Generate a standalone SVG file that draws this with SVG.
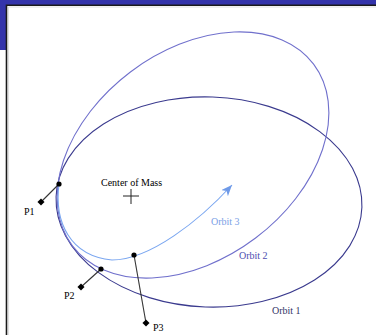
<svg xmlns="http://www.w3.org/2000/svg" width="376" height="335" viewBox="0 0 376 335">
<style>
  .lbl { font-family: "Liberation Serif", "Times New Roman", serif; font-size: 10px; }
  .orb { fill: none; stroke-width: 1.1; }
  .lead { stroke: #333; stroke-width: 1.1; }
  .dot { fill: #000; }
</style>
<defs>
  <marker id="arr" markerWidth="12" markerHeight="10" refX="11" refY="4.5" orient="auto" markerUnits="userSpaceOnUse">
    <path d="M0,0 L11,4.5 L0,9 L3,4.5 Z" fill="#6f9ae8"/>
  </marker>
</defs>
<rect width="376" height="335" fill="#fff"/>
<g id="frame">
  <rect x="0" y="0" width="376" height="5" fill="#3333aa"/>
  <rect x="0" y="0" width="7" height="50" fill="#3333aa"/>
  <path d="M6.5,335 V5.2 H376" fill="none" stroke="#1a1a1a" stroke-width="1.6"/>
  <path d="M8.5,335 V7 H376" fill="none" stroke="#d8d8d8" stroke-width="0.8"/>
</g>
<g id="orbit1">
  <ellipse class="orb" cx="209" cy="202" rx="153" ry="105" transform="rotate(2 209 202)" stroke="#3a3a8e"/>
  <text class="lbl" x="272" y="314" fill="#333366">Orbit 1</text>
</g>
<g id="orbit2">
  <ellipse class="orb" cx="193" cy="155" rx="151" ry="104" transform="rotate(-37 193 155)" stroke="#7070cc"/>
  <text class="lbl" x="239" y="259" fill="#4d4db0">Orbit 2</text>
</g>
<g id="orbit3">
  <path class="orb" d="M59,184 C54,222 70,256 112,260 C150,260 200,220 232,185" stroke="#7aa6f0" marker-end="url(#arr)"/>
  <text class="lbl" x="211" y="225" fill="#7aa0e6">Orbit 3</text>
</g>
<g id="center-of-mass">
  <text class="lbl" x="101" y="186">Center of Mass</text>
  <path d="M123,196 H139 M131,189 V204" stroke="#222" stroke-width="1"/>
</g>
<g id="connectors">
  <line class="lead" x1="59" y1="184" x2="41" y2="202"/>
  <line class="lead" x1="101" y1="269" x2="81" y2="287"/>
  <line class="lead" x1="134" y1="255" x2="146" y2="323"/>
</g>
<g id="P1">
  <circle class="dot" cx="59" cy="184" r="2.6"/>
  <rect class="dot" x="38.5" y="199.5" width="5" height="5" transform="rotate(45 41 202)"/>
  <text class="lbl" x="24" y="215">P1</text>
</g>
<g id="P2">
  <circle class="dot" cx="101" cy="269" r="2.6"/>
  <rect class="dot" x="78.5" y="284.5" width="5" height="5" transform="rotate(45 81 287)"/>
  <text class="lbl" x="64" y="299">P2</text>
</g>
<g id="P3">
  <circle class="dot" cx="134" cy="255" r="2.6"/>
  <rect class="dot" x="143.5" y="320.5" width="5" height="5" transform="rotate(45 146 323)"/>
  <text class="lbl" x="153" y="331">P3</text>
</g>
</svg>
